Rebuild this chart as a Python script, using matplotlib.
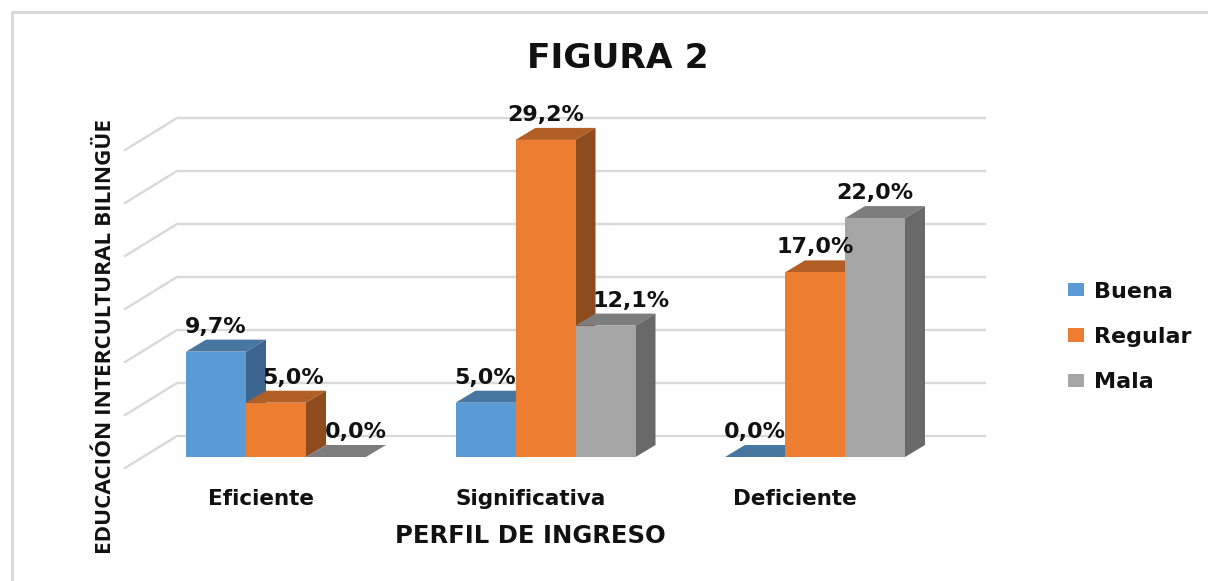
import numpy as np
import matplotlib
matplotlib.use("Agg")
import matplotlib.pyplot as plt
from matplotlib.patches import Patch
from matplotlib.transforms import ScaledTranslation

categories = ["Eficiente", "Significativa", "Deficiente"]
series = ["Buena", "Regular", "Mala"]
buena = [9.7, 5.0, 0.0]
regular = [5.0, 29.2, 17.0]
mala = [0.0, 12.1, 22.0]
grid_levels = [0, 4.88, 9.76, 14.64, 19.52, 24.4, 29.28]

W, H = 1208, 581
fig = plt.figure(figsize=(W / 100, H / 100), dpi=100, facecolor="white")
L, R, B, T = 125, 985, 457, 118
ax = fig.add_axes([L / W, 1 - B / H, (R - L) / W, (B - T) / H])
PXX, PXY = 269.5, 10.86
ax.set_xlim((L - 276) / PXX, (R - 276) / PXX)
ax.set_ylim(0, (B - T) / PXY)
ax.patch.set_visible(False)
for s in ax.spines.values():
    s.set_visible(False)

def ux(px):
    return px / PXX

def uy(px):
    return px / PXY

# figure frame
fig.add_artist(plt.Line2D([12 / W, 12 / W, 1], [0, 1 - 12 / H, 1 - 12 / H], color="#d9d9d9", lw=2.2))

# gridlines: back wall with a diagonal on the left side
grid_c = "#d9d9d9"
x_back0, x_back1 = (177 - 276) / PXX, (985 - 276) / PXX
x_front = (125 - 276) / PXX
y_base = uy(21)
for g in grid_levels:
    yb = g + y_base
    ax.plot([x_front, x_back0, x_back1], [yb - uy(32), yb, yb], color=grid_c, lw=1.7,
            clip_on=False, zorder=1, solid_joinstyle="miter")

# bars with depth faces
fronts = ["#5B9BD5", "#ED7D31", "#A5A5A5"]
tops = ["#4776A1", "#B25F25", "#7D7D7D"]
sides = ["#3C6690", "#8E4B1D", "#696969"]
bw = 60 / PXX
dx, dy = ux(20), uy(12)
values = [buena, regular, mala]
xpos = np.arange(len(categories))
label_dx = [[0, 0, 0], [17, 0, 0], [20, 26, 0]]
for si, vals in enumerate(values):
    z = 3 + si
    x0 = xpos + (si - 1.5) * bw
    for x, v in zip(x0, vals):
        ax.fill([x, x + bw, x + bw + dx, x + dx], [v, v, v + dy, v + dy], color=tops[si],
                lw=0, clip_on=False, zorder=z)
        ax.fill([x + bw, x + bw + dx, x + bw + dx, x + bw], [0, dy, v + dy, v], color=sides[si],
                lw=0, clip_on=False, zorder=z)
    ax.bar(x0, vals, width=bw, align="edge", color=fronts[si], lw=0, clip_on=False, zorder=z + 0.1)

# data labels
for si, vals in enumerate(values):
    for ci, v in enumerate(vals):
        ax.annotate(f"{v:.1f}%".replace(".", ","),
                    (xpos[ci] + (si - 1) * bw, v),
                    xytext=(label_dx[si][ci] * 0.72, 25 * 0.72), textcoords="offset points",
                    ha="center", va="center", fontsize=16, fontweight="bold",
                    family="DejaVu Sans", color="#111111", zorder=20, annotation_clip=False)

# category axis
ax.set_yticks([])
ax.set_xticks(xpos, categories, fontsize=15.5, fontweight="bold", family="DejaVu Sans", color="#111111")
ax.tick_params(axis="x", length=0, pad=23)
for lab, shift in zip(ax.get_xticklabels(), [-15, -15, -20]):
    lab.set_transform(lab.get_transform() + ScaledTranslation(shift / 100, 0, fig.dpi_scale_trans))

# titles
ax.set_title("FIGURA 2", fontsize=24.8, fontweight="bold", family="DejaVu Sans", color="#111111",
             x=(618 - L) / (R - L), y=(B - 58) / (B - T), va="center", pad=0)
ax.set_xlabel("PERFIL DE INGRESO", fontsize=17.5, fontweight="bold", family="DejaVu Sans", color="#111111")
ax.xaxis.set_label_coords((530 - L) / (R - L), (B - 536) / (B - T))
ax.xaxis.label.set_va("center")
ax.set_ylabel("EDUCACIÓN INTERCULTURAL BILINGÜE", fontsize=16.2, fontweight="bold",
              family="Open Sans", color="#111111")
ax.yaxis.set_label_coords((106 - L) / (R - L), (B - 337) / (B - T))
ax.yaxis.label.set_va("center")

# legend
handles = [Patch(facecolor=c, edgecolor="none", label=s) for c, s in zip(fronts, series)]
leg = ax.legend(handles=handles, loc="center left", bbox_to_anchor=(1068 / W, 1 - 337 / H),
                bbox_transform=fig.transFigure, frameon=False,
                prop={"family": "DejaVu Sans", "weight": "bold", "size": 16},
                handlelength=0.72, handleheight=0.55, handletextpad=0.45, labelspacing=1.14,
                borderpad=0, borderaxespad=0)
for t in leg.get_texts():
    t.set_color("#111111")

fig.savefig("out.png", dpi=100, facecolor="white")
